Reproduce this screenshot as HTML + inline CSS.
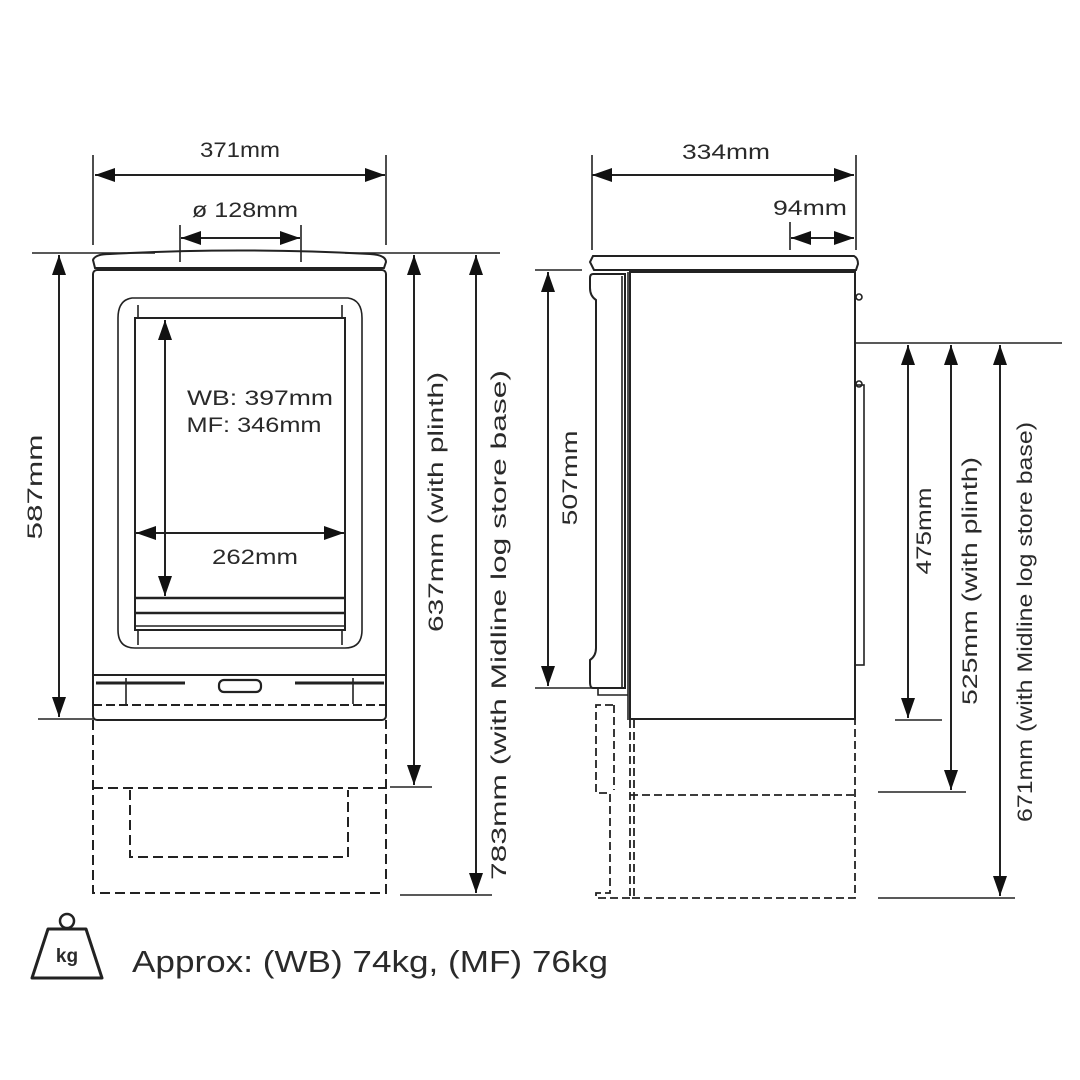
<!DOCTYPE html>
<html><head><meta charset="utf-8"><style>
html,body{margin:0;padding:0;background:#fff;}
svg{display:block;}
text{font-family:"Liberation Sans",sans-serif;fill:#2a2a2a;}
</style></head><body>
<svg width="1080" height="1080" viewBox="0 0 1080 1080" xmlns="http://www.w3.org/2000/svg">
<defs>
<marker id="a" viewBox="0 0 20 14" refX="20" refY="7" markerWidth="20" markerHeight="14" markerUnits="userSpaceOnUse" orient="auto-start-reverse">
<path d="M0,0 L20,7 L0,14 Z" fill="#111"/>
</marker>
</defs>
<g stroke="#222" stroke-width="1.6" fill="none">
<line x1="93" y1="155" x2="93" y2="245"/>
<line x1="386" y1="155" x2="386" y2="245"/>
<line x1="180" y1="225" x2="180" y2="262"/>
<line x1="301" y1="225" x2="301" y2="262"/>
<line x1="32" y1="253" x2="155" y2="253"/>
<line x1="345" y1="253" x2="500" y2="253"/>
<line x1="38" y1="719" x2="95" y2="719"/>
<line x1="390" y1="787" x2="432" y2="787"/>
<line x1="400" y1="895" x2="492" y2="895"/>
<line x1="95" y1="175" x2="385" y2="175" stroke-width="2" marker-start="url(#a)" marker-end="url(#a)"/>
<line x1="181" y1="238" x2="300" y2="238" stroke-width="2" marker-start="url(#a)" marker-end="url(#a)"/>
<line x1="59" y1="255" x2="59" y2="717" stroke-width="2" marker-start="url(#a)" marker-end="url(#a)"/>
<line x1="414" y1="255" x2="414" y2="785" stroke-width="2" marker-start="url(#a)" marker-end="url(#a)"/>
<line x1="476" y1="255" x2="476" y2="893" stroke-width="2" marker-start="url(#a)" marker-end="url(#a)"/>
<line x1="165" y1="320" x2="165" y2="596" stroke-width="2" marker-start="url(#a)" marker-end="url(#a)"/>
<line x1="136" y1="533" x2="344" y2="533" stroke-width="2" marker-start="url(#a)" marker-end="url(#a)"/>
<path d="M95,268 L93,260 Q95,254 110,254 Q240,247 370,254 Q386,255 386,262 L384,268 Z" stroke-width="2"/>
<rect x="93" y="270" width="293" height="450" rx="4" stroke-width="2"/>
<path d="M132,298 L348,298 Q362,300 362,318 L362,630 Q362,648 345,648 L135,648 Q118,648 118,630 L118,318 Q118,300 132,298 Z"/>
<rect x="135" y="318" width="210" height="312" stroke-width="2"/>
<line x1="138" y1="305" x2="138" y2="318"/>
<line x1="342" y1="305" x2="342" y2="318"/>
<line x1="138" y1="630" x2="138" y2="645"/>
<line x1="342" y1="630" x2="342" y2="645"/>
<line x1="135" y1="598" x2="345" y2="598" stroke-width="2.5"/>
<line x1="135" y1="613" x2="345" y2="613" stroke-width="2.5"/>
<line x1="135" y1="626" x2="345" y2="626"/>
<line x1="93" y1="675" x2="386" y2="675" stroke-width="2"/>
<line x1="96" y1="683" x2="185" y2="683" stroke-width="3"/>
<line x1="295" y1="683" x2="384" y2="683" stroke-width="3"/>
<rect x="219" y="680" width="42" height="12" rx="5" stroke-width="2.2"/>
<line x1="126" y1="678" x2="126" y2="704"/>
<line x1="353" y1="678" x2="353" y2="704"/>
<line x1="93" y1="705" x2="386" y2="705" stroke-dasharray="9 4" stroke-width="2"/>
<g stroke-dasharray="10 5" stroke-width="2">
<path d="M93,720 L93,893 L386,893 L386,720"/>
<line x1="93" y1="788" x2="386" y2="788"/>
<path d="M130,790 L130,857 L348,857 L348,790"/>
</g>
<line x1="592" y1="155" x2="592" y2="250"/>
<line x1="856" y1="155" x2="856" y2="250"/>
<line x1="790" y1="222" x2="790" y2="250"/>
<line x1="535" y1="270" x2="582" y2="270"/>
<line x1="535" y1="688" x2="600" y2="688"/>
<line x1="856" y1="343" x2="1062" y2="343"/>
<line x1="895" y1="720" x2="942" y2="720"/>
<line x1="878" y1="792" x2="966" y2="792"/>
<line x1="878" y1="898" x2="1015" y2="898"/>
<line x1="592" y1="175" x2="854" y2="175" stroke-width="2" marker-start="url(#a)" marker-end="url(#a)"/>
<line x1="791" y1="238" x2="854" y2="238" stroke-width="2" marker-start="url(#a)" marker-end="url(#a)"/>
<line x1="548" y1="272" x2="548" y2="686" stroke-width="2" marker-start="url(#a)" marker-end="url(#a)"/>
<line x1="908" y1="345" x2="908" y2="718" stroke-width="2" marker-start="url(#a)" marker-end="url(#a)"/>
<line x1="951" y1="345" x2="951" y2="790" stroke-width="2" marker-start="url(#a)" marker-end="url(#a)"/>
<line x1="1000" y1="345" x2="1000" y2="896" stroke-width="2" marker-start="url(#a)" marker-end="url(#a)"/>
<path d="M593,256 L854,256 Q858,258 858,264 L856,270 L594,270 L590,262 Z" stroke-width="2"/>
<rect x="630" y="272" width="225" height="447" stroke-width="2"/>
<path d="M593,274 L625,274 L625,688 L593,688 Q590,688 590,682 L590,660 Q596,656 596,648 L596,300 Q590,296 590,288 L590,278 Q590,274 593,274 Z" stroke-width="2"/>
<line x1="622" y1="276" x2="622" y2="688"/>
<line x1="628" y1="272" x2="628" y2="720"/>
<rect x="855" y="385" width="9" height="280"/>
<circle cx="859" cy="297" r="3"/>
<circle cx="859" cy="384" r="3"/>
<path d="M598,688 L598,695 L628,695"/>
<g stroke-dasharray="8 4" stroke-width="1.8">
<path d="M613,705 L596,705 L596,793 L610,793 L610,893 L596,893 L596,898 L630,898"/>
<line x1="614" y1="705" x2="614" y2="790"/>
<path d="M630,720 L630,898 L855,898 L855,720"/>
<line x1="634" y1="720" x2="634" y2="898"/>
<line x1="630" y1="795" x2="855" y2="795"/>
</g>
<circle cx="67" cy="921" r="7" stroke-width="2.5"/>
<path d="M48,929 L86,929 L102,978 L32,978 Z" stroke-width="3" stroke-linejoin="round"/>
</g>
<g font-size="21" text-anchor="middle" lengthAdjust="spacingAndGlyphs">
<text x="240" y="157" textLength="80" lengthAdjust="spacingAndGlyphs">371mm</text>
<text x="245" y="217" textLength="106" lengthAdjust="spacingAndGlyphs">ø 128mm</text>
<text x="260" y="405" textLength="146" lengthAdjust="spacingAndGlyphs">WB: 397mm</text>
<text x="254" y="432" textLength="135" lengthAdjust="spacingAndGlyphs">MF: 346mm</text>
<text x="255" y="564" textLength="86" lengthAdjust="spacingAndGlyphs">262mm</text>
<text x="726" y="159" textLength="88" lengthAdjust="spacingAndGlyphs">334mm</text>
<text x="810" y="215" textLength="74" lengthAdjust="spacingAndGlyphs">94mm</text>
<text transform="translate(42,487) rotate(-90)" textLength="105" lengthAdjust="spacingAndGlyphs">587mm</text>
<text transform="translate(443,502) rotate(-90)" textLength="260" lengthAdjust="spacingAndGlyphs">637mm (with plinth)</text>
<text transform="translate(506,625) rotate(-90)" textLength="510" lengthAdjust="spacingAndGlyphs">783mm (with Midline log store base)</text>
<text transform="translate(577,478) rotate(-90)" textLength="95" lengthAdjust="spacingAndGlyphs">507mm</text>
<text transform="translate(931,531) rotate(-90)" textLength="87" lengthAdjust="spacingAndGlyphs">475mm</text>
<text transform="translate(977,581) rotate(-90)" textLength="248" lengthAdjust="spacingAndGlyphs">525mm (with plinth)</text>
<text transform="translate(1032,622) rotate(-90)" textLength="400" lengthAdjust="spacingAndGlyphs">671mm (with Midline log store base)</text>
</g>
<text x="67" y="962" font-size="19" font-weight="bold" text-anchor="middle" fill="#222">kg</text>
<text x="132" y="972" font-size="31" fill="#555" textLength="476" lengthAdjust="spacingAndGlyphs">Approx: (WB) 74kg, (MF) 76kg</text>
</svg>
</body></html>
